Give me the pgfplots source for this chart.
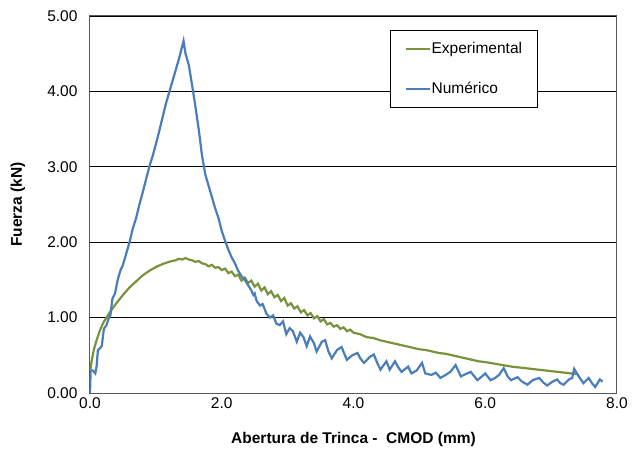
\documentclass[border=0pt]{standalone}
\usepackage{fontspec}
\setmainfont{Liberation Sans}
\usepackage{pgfplots}
\pgfplotsset{compat=1.18}
\definecolor{expgreen}{HTML}{77933C}
\definecolor{numblue}{HTML}{4A7EBB}
\begin{document}
\begin{tikzpicture}
\path[use as bounding box] (-90bp,-59bp) rectangle (542bp,393bp);
\begin{axis}[
  at={(0,0)}, anchor=south west,
  scale only axis, width=527bp, height=377bp,
  xmin=0, xmax=8, ymin=0, ymax=5,
  xtick={0,2,4,6,8}, ytick={0,1,2,3,4,5},
  major tick length=0pt,
  font=\fontsize{15.5bp}{18bp}\selectfont,
  /pgf/number format/assume math mode=true,
  xticklabel style={/pgf/number format/fixed, /pgf/number format/fixed zerofill,
    /pgf/number format/precision=1, yshift=-1bp},
  yticklabel style={/pgf/number format/fixed, /pgf/number format/fixed zerofill,
    /pgf/number format/precision=2, xshift=-9bp},
  ymajorgrids, grid style={black, line width=0.8bp},
  axis line style={draw=gray!70!black, line width=1bp},
  xlabel={\bfseries Abertura de Trinca -\ \ CMOD (mm)},
  ylabel={\bfseries Fuerza (kN)},
  xlabel style={at={(axis description cs:0.5,-0.122)}, anchor=center},
  ylabel style={at={(axis description cs:-0.137,0.5)}, anchor=center},
  legend cell align=left,
  legend style={at={(0.569,0.963)}, anchor=north west, draw=black, line width=1.2bp,
    fill=white, inner xsep=14bp, inner ysep=10bp, row sep=23bp,
    font=\fontsize{15.5bp}{18bp}\selectfont,
    nodes={inner xsep=1bp}},
  legend image code/.code={\draw[#1] (0bp,0bp) -- (24bp,0bp);},
]
\addplot[expgreen, line width=2.2bp] coordinates {
(0.00,0.28) (0.03,0.45) (0.06,0.58) (0.10,0.70) (0.15,0.83) (0.20,0.93)
(0.25,1.00) (0.30,1.07) (0.40,1.19) (0.50,1.30) (0.60,1.40) (0.70,1.48)
(0.80,1.56) (0.90,1.62) (1.00,1.67) (1.10,1.71) (1.20,1.74) (1.30,1.76)
(1.35,1.78) (1.40,1.77) (1.45,1.79) (1.50,1.77) (1.55,1.76) (1.60,1.74)
(1.65,1.75) (1.70,1.72) (1.75,1.71) (1.80,1.68) (1.85,1.70) (1.90,1.66)
(1.95,1.67) (2.00,1.63) (2.05,1.65) (2.10,1.59) (2.15,1.61) (2.20,1.55)
(2.25,1.57) (2.30,1.49) (2.35,1.53) (2.40,1.46) (2.45,1.49) (2.50,1.41)
(2.55,1.45) (2.60,1.36) (2.65,1.40) (2.70,1.31) (2.75,1.35) (2.80,1.27)
(2.85,1.30) (2.90,1.22) (2.95,1.26) (3.00,1.16) (3.05,1.19) (3.10,1.12)
(3.15,1.15) (3.20,1.07) (3.25,1.10) (3.30,1.03) (3.35,1.06) (3.40,0.99)
(3.45,1.02) (3.50,0.95) (3.55,0.98) (3.60,0.91) (3.65,0.93) (3.70,0.88)
(3.75,0.90) (3.80,0.85) (3.85,0.87) (3.90,0.82) (3.95,0.84) (4.00,0.80)
(4.10,0.78) (4.20,0.74) (4.30,0.73) (4.40,0.70) (4.50,0.68) (4.60,0.66)
(4.70,0.64) (4.80,0.62) (4.90,0.60) (5.00,0.58) (5.10,0.57) (5.20,0.55)
(5.30,0.53) (5.40,0.52) (5.50,0.50) (5.60,0.48) (5.70,0.46) (5.80,0.44)
(5.90,0.42) (6.00,0.41) (6.20,0.38) (6.40,0.35) (6.60,0.33) (6.80,0.31)
(7.00,0.29) (7.20,0.27) (7.40,0.25)
};
\addlegendentry{Experimental}
\addplot[numblue, line width=2.2bp] coordinates {
(0.00,0.00) (0.01,0.30) (0.04,0.30) (0.08,0.26) (0.10,0.35) (0.12,0.57)
(0.16,0.60) (0.18,0.63) (0.21,0.85) (0.25,0.90) (0.28,0.98) (0.31,1.03)
(0.34,1.25) (0.38,1.32) (0.42,1.50) (0.46,1.62) (0.50,1.70) (0.55,1.85)
(0.60,2.00) (0.65,2.18) (0.70,2.32) (0.75,2.50) (0.80,2.66) (0.85,2.83)
(0.90,3.00) (0.95,3.14) (1.00,3.30) (1.05,3.47) (1.10,3.65) (1.15,3.83)
(1.20,3.98) (1.25,4.13) (1.30,4.28) (1.35,4.43) (1.40,4.60) (1.42,4.67)
(1.45,4.50) (1.50,4.35) (1.55,4.08) (1.60,3.80) (1.65,3.50) (1.70,3.15)
(1.75,2.90) (1.80,2.75) (1.85,2.60) (1.90,2.45) (1.95,2.32) (2.00,2.15)
(2.05,2.02) (2.10,1.90) (2.15,1.80) (2.20,1.72) (2.25,1.62) (2.30,1.55)
(2.35,1.50) (2.40,1.43) (2.45,1.36) (2.48,1.30) (2.50,1.32) (2.53,1.22)
(2.58,1.16) (2.62,1.18) (2.68,1.05) (2.73,1.00) (2.78,1.03) (2.83,0.92)
(2.88,0.90) (2.93,0.95) (2.98,0.78) (3.03,0.86) (3.08,0.82) (3.14,0.68)
(3.19,0.80) (3.24,0.74) (3.29,0.62) (3.34,0.75) (3.40,0.66) (3.44,0.55)
(3.52,0.68) (3.57,0.70) (3.62,0.55) (3.67,0.46) (3.75,0.57) (3.82,0.61)
(3.87,0.50) (3.90,0.44) (3.98,0.50) (4.06,0.53) (4.11,0.45) (4.16,0.40)
(4.25,0.48) (4.31,0.51) (4.36,0.40) (4.41,0.31) (4.50,0.42) (4.55,0.31)
(4.63,0.42) (4.68,0.34) (4.73,0.28) (4.83,0.35) (4.88,0.26) (4.96,0.30)
(5.04,0.40) (5.09,0.26) (5.18,0.24) (5.25,0.27) (5.32,0.20) (5.40,0.24)
(5.47,0.28) (5.55,0.37) (5.63,0.22) (5.70,0.25) (5.78,0.28) (5.88,0.17)
(5.95,0.22) (6.00,0.26) (6.08,0.17) (6.15,0.20) (6.21,0.24) (6.28,0.33)
(6.34,0.22) (6.39,0.17) (6.49,0.21) (6.56,0.15) (6.64,0.11) (6.72,0.17)
(6.82,0.20) (6.88,0.14) (6.94,0.10) (7.02,0.15) (7.09,0.18) (7.14,0.13)
(7.19,0.11) (7.27,0.18) (7.32,0.20) (7.35,0.32) (7.42,0.22) (7.49,0.13)
(7.57,0.20) (7.62,0.13) (7.67,0.08) (7.74,0.18) (7.78,0.15)
};
\addlegendentry{Numérico}
\end{axis}
\end{tikzpicture}
\end{document}
